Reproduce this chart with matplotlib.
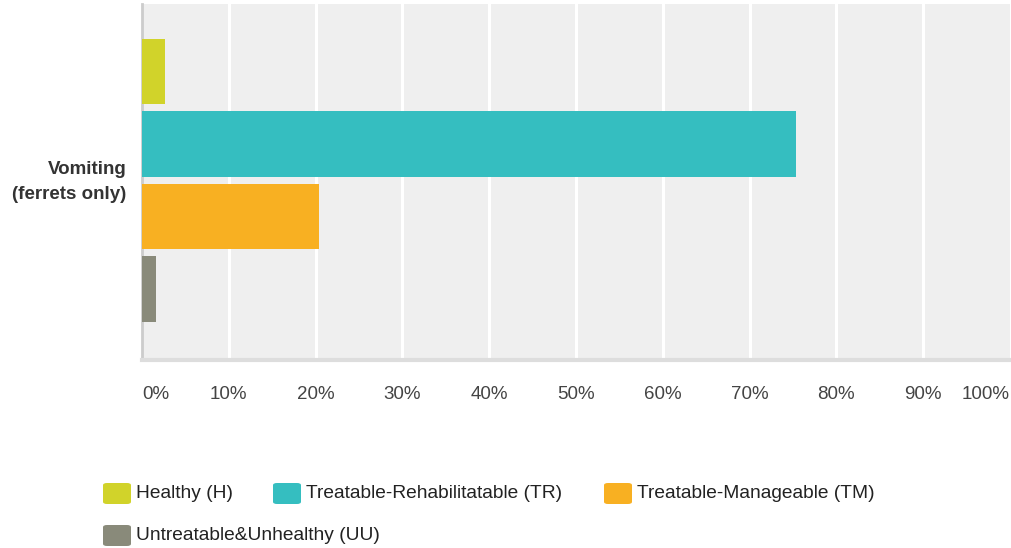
import matplotlib
matplotlib.use("Agg")
import matplotlib.pyplot as plt
from matplotlib.patches import FancyBboxPatch

plt.rcParams['font.family'] = ['Liberation Sans', 'DejaVu Sans']

category = "Vomiting\n(ferrets only)"
series = ["Healthy (H)", "Treatable-Rehabilitatable (TR)",
          "Treatable-Manageable (TM)", "Untreatable&Unhealthy (UU)"]
values = [2.6, 75.4, 20.4, 1.6]
colors = ["#d1d32a", "#35bec0", "#f8b022", "#898a7a"]
ticks = list(range(0, 101, 10))
tick_labels = [f"{t}%" for t in ticks]

W, H = 1012, 548
fig = plt.figure(figsize=(W / 100, H / 100), dpi=100)
ax = fig.add_axes([142 / W, (H - 360) / H, 868 / W, 356 / H])
ax.set_facecolor("#efefef")

# grouped horizontal bars around the single category
step = 1.0
bar_h = 0.905
for i, (name, v, c) in enumerate(zip(series, values, colors)):
    ax.barh(i * step, v, height=bar_h, color=c, zorder=3, label=name)

ax.set_xlim(0, 100)
ax.set_ylim(3.98, -0.93)

for t in ticks[1:-1]:
    ax.axvline(t, color="white", lw=2.2, zorder=1)

ax.set_xticks(ticks)
ax.set_xticklabels([])
ax.tick_params(axis="x", length=0)
ax.set_yticks([])

for t, lab in zip(ticks, tick_labels):
    ha = "left" if t == 0 else ("right" if t == 100 else "center")
    ax.text(t, -0.097, lab, transform=ax.get_xaxis_transform(), ha=ha, va="center",
            fontsize=13.5, color="#444444")

ax.text(-0.018, 0.5, category, transform=ax.transAxes, ha="right", va="center",
        fontsize=13.5, fontweight="bold", color="#333333", linespacing=1.55)

for side in ("top", "right"):
    ax.spines[side].set_visible(False)
ax.spines["left"].set_color("#cccccc")
ax.spines["left"].set_linewidth(2)
ax.spines["bottom"].set_color("#dddddd")
ax.spines["bottom"].set_linewidth(3)

# legend laid out in two rows below the chart
legend_pos = [(103, 483), (273, 483), (604, 483), (103, 525)]
for (px, py), name, c in zip(legend_pos, series, colors):
    patch = FancyBboxPatch((px / W, 1 - (py + 21) / H), 28 / W, 21 / H,
                           boxstyle="round,pad=0,rounding_size=0.004",
                           transform=fig.transFigure, facecolor=c, edgecolor="none")
    fig.patches.append(patch)
    fig.text((px + 33) / W, 1 - (py + 10.5) / H, name, ha="left", va="center",
             fontsize=13.8, color="#222222")

fig.savefig("out.png", dpi=100)
